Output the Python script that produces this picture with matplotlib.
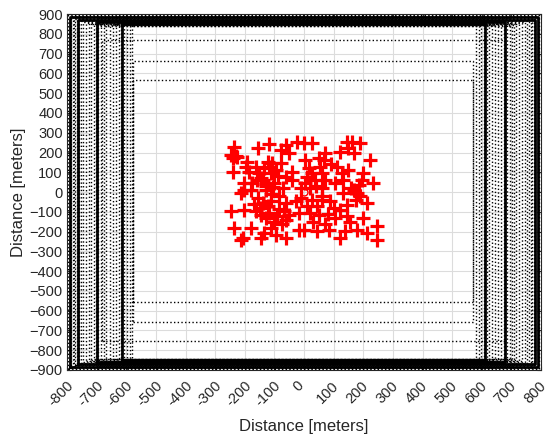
import matplotlib.pyplot as plt
import matplotlib
from matplotlib.transforms import ScaledTranslation

matplotlib.rcParams['font.family'] = ['Liberation Sans', 'DejaVu Sans']
matplotlib.rcParams['font.size'] = 10.5

# node positions [m]
node_x = [-235, -246, -241, -241, -157, -118, -78, -62, -50, -23, 0, -191, -196, -162,
          -123, -118, -107, -151, -112, -62, -39, -78, -202, -174, -140, -101, -39, -11,
          -179, -129, -230, -225, -135, -95, -128, -88, -70, -145, -160, -105, -130, -185,
          27, 144, 161, 189, 150, 122, 167, 72, 49, 66, 223, 4, 16, 55, 111, 27, 60, 128,
          200, 38, 72, 133, 195, 4, 105, 234, 184, 21, 60, 170, 150, 90, 40, 10,
          -213, -202, -157, -140, -112, -84, -62, -28, -11, -246, -202, -162, -146, -118,
          -90, -67, -50, -17, -235, -179, -135, -112, -95, -62, -17, -207, -212, -146,
          -120, -100, -150, -75, -130, -170, -85, -110, -60,
          27, 60, 44, 88, 133, 178, 212, 144, 21, 49, 105, 144, 200, -1, 44, 83, 139,
          178, 212, 122, 245, 245, 160, 190, 120, 30, 70, 100, 175, 155, 10, 60, 80]
node_y = [229, 187, 170, 103, 221, 243, 212, 238, 196, 254, 246, 153, 128, 128,
          153, 128, 145, 95, 95, 77, 103, 145, 44, 44, 61, 44, 61, 19,
          10, 10, 180, 175, 120, 110, 30, 80, 20, 70, 60, 25, 40, 100,
          246, 254, 254, 246, 221, 204, 196, 196, 170, 162, 162, 162, 120, 128, 128, 95,
          95, 95, 95, 61, 61, 61, 61, 44, 44, 44, 36, 19, 19, 10, 110, 140, 30, 75,
          -5, 12, -30, -56, -47, -22, -56, -47, -30, -98, -89, -98, -115, -106,
          -123, -98, -115, -106, -182, -182, -207, -182, -216, -233, -191, -233, -241, -233,
          -70, -150, -80, -160, -130, -60, -85, -10, -140,
          -39, -39, -72, -47, -5, -5, -56, -64, -106, -115, -131, -123, -131, -191, -199,
          -191, -199, -191, -207, -233, -174, -241, 20, -20, -90, -150, -160, -80, -40,
          -150, -70, -20, -110]

# boundary rectangles: left, right, bottom, top, line style
rect_x0 = [-790, -763, -699, -615,
           -795, -788, -781, -777, -772, -766, -759, -752, -745, -737, -727, -719, -710,
           -702, -695, -686, -676, -668, -656, -646, -636, -626, -618, -607, -596, -588,
           -582, -682, -578, -578]
rect_x1 = [790, 780, 679, 612,
           793, 788, 779, 776, 771, 766, 760, 753, 745, 737, 727, 717, 707,
           703, 694, 686, 676, 666, 655, 646, 635, 625, 617, 606, 597, 590,
           581, 679, 571, 571]
rect_y0 = [-885, -870, -860, -850,
           -895, -890, -884, -880, -877, -873, -868, -864, -860, -856, -852, -848, -845,
           -842, -880, -872, -866, -858, -852, -846, -888, -876, -864, -856, -848, -842,
           -866, -755, -655, -555]
rect_y1 = [885, 870, 860, 850,
           895, 890, 884, 880, 877, 873, 868, 864, 860, 856, 852, 848, 845,
           842, 880, 872, 866, 858, 852, 846, 888, 876, 864, 856, 848, 842,
           866, 770, 662, 566]
rect_ls = ['-', '-', '-', '-'] + [':'] * 30

tick_vals_x = list(range(-800, 801, 100))
tick_vals_y = list(range(-900, 901, 100))

fig = plt.figure(figsize=(5.5, 4.41), dpi=100)
ax = fig.add_axes([0.1218, 0.161, 0.862, 0.807])

for x0, x1, y0, y1, ls in zip(rect_x0, rect_x1, rect_y0, rect_y1, rect_ls):
    lw = 2.0 if ls == '-' else 1.0
    ax.plot([x0, x1, x1, x0, x0], [y0, y0, y1, y1, y0], color='black', linestyle=ls, linewidth=lw, zorder=2)

ax.plot(node_x, node_y, linestyle='none', marker='+', color='red', markersize=10, markeredgewidth=2.3, zorder=3)
ax.plot([0], [0], linestyle='none', marker='o', color='red', markerfacecolor='none', markersize=5, zorder=3)

# Configure axes
ax.set_xlim(-800, 800)
ax.set_ylim(-900, 900)
ax.set_xticks(tick_vals_x)
ax.set_yticks(tick_vals_y)
ax.set_xticklabels([str(v) for v in tick_vals_x], rotation=45, ha='center', va='top')
ax.tick_params(axis='both', colors='#262626', labelsize=10.5, length=3, direction='in', top=True, right=True)
ax.tick_params(axis='x', pad=6)
ax.tick_params(axis='y', pad=3)
shift = ScaledTranslation(-6 / 100, 0, fig.dpi_scale_trans)
for lab in ax.get_xticklabels():
    lab.set_transform(lab.get_transform() + shift)
ax.grid(True, color='#dcdcdc', linewidth=0.8, zorder=0)
ax.set_axisbelow(True)
for s in ax.spines.values():
    s.set_color('#262626')
    s.set_linewidth(0.8)

ax.set_xlabel('Distance [meters]', fontsize=12, color='#262626', labelpad=7)
ax.set_ylabel('Distance [meters]', fontsize=12, color='#262626', labelpad=3)

plt.savefig('out.png', dpi=100)
